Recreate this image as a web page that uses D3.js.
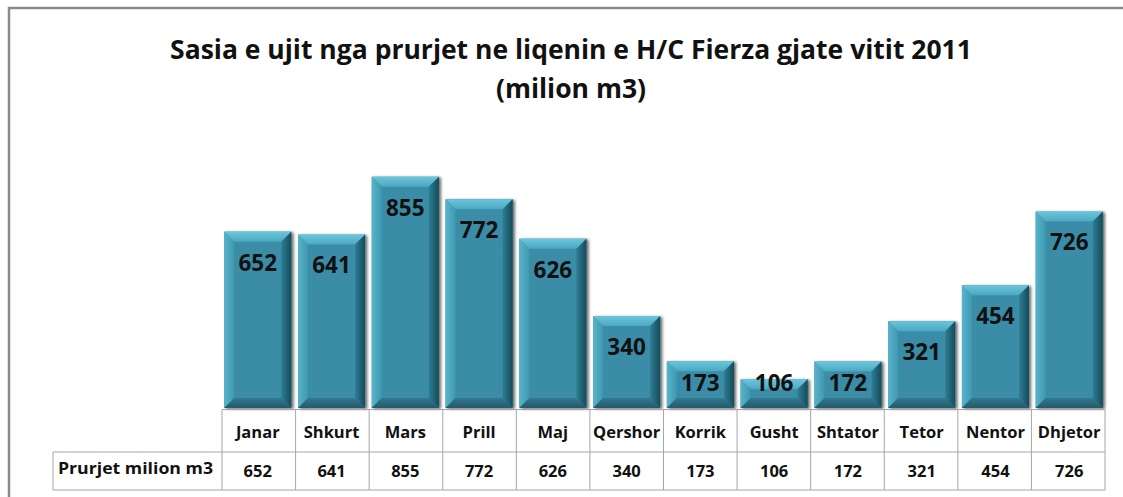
<!DOCTYPE html>
<html>
<head>
<meta charset="utf-8">
<script src="https://cdn.jsdelivr.net/npm/d3@7"></script>
<style>
  body { margin: 0; background: #fff; }
  svg { display: block; font-family: "Open Sans", "Noto Sans", sans-serif; }
  .title { font-weight: bold; font-size: 26.5px; fill: #111; }
  .cell { font-weight: bold; font-size: 16.5px; fill: #111; }
  .val { font-weight: bold; font-size: 22.5px; fill: #111; }
</style>
</head>
<body>
<svg width="1123" height="497"></svg>
<script>
var months = ["Janar", "Shkurt", "Mars", "Prill", "Maj", "Qershor", "Korrik", "Gusht", "Shtator", "Tetor", "Nentor", "Dhjetor"];
var values = [652, 641, 855, 772, 626, 340, 173, 106, 172, 321, 454, 726];
var seriesName = "Prurjet milion m3";
var titleLines = ["Sasia e ujit nga prurjet ne liqenin e H/C Fierza gjate vitit 2011", "(milion m3)"];

var svg = d3.select("svg");
var data = months.map(function(m, i) { return {month: m, val: values[i]}; });

var left = 222, right = 1105, base = 408;
var labelLeft = 53;
var row1 = 452, row2 = 490;

// outer chart border
svg.append("path")
  .attr("d", "M9,497 V8 H1123")
  .attr("fill", "none")
  .attr("stroke", "#8a8a8a")
  .attr("stroke-width", 2.5);

svg.selectAll(".title")
  .data(titleLines)
  .enter()
  .append("text")
  .attr("class", "title")
  .attr("x", 571)
  .attr("y", (d, i) => 59 + i * 39)
  .attr("text-anchor", "middle")
  .text(d => d);

var xScale = d3.scaleBand().domain(months).range([left, right]).paddingInner(0.09).paddingOuter(0.03);
var yScale = d3.scaleLinear().domain([0, 1000]).range([base, base - 270.5]);

var defs = svg.append("defs");
var f = defs.append("filter").attr("id", "shadow").attr("x", "-20%").attr("y", "-20%").attr("width", "140%").attr("height", "140%");
f.append("feGaussianBlur").attr("in", "SourceAlpha").attr("stdDeviation", 1.5);
f.append("feOffset").attr("dx", 2).attr("dy", 1).attr("result", "b");
f.append("feComponentTransfer").append("feFuncA").attr("type", "linear").attr("slope", 0.6);
var m = f.append("feMerge");
m.append("feMergeNode");
m.append("feMergeNode").attr("in", "SourceGraphic");

// gradients for bevel faces
function grad(id, x2, y2, c1, c2) {
  var g = defs.append("linearGradient").attr("id", id)
    .attr("x1", 0).attr("y1", 0).attr("x2", x2).attr("y2", y2);
  g.append("stop").attr("offset", 0).attr("stop-color", c1);
  g.append("stop").attr("offset", 1).attr("stop-color", c2);
}
grad("gTop", 0, 1, "#6cc6dc", "#4aa9c2");
grad("gLeft", 1, 0, "#58b4cb", "#3f98b1");
grad("gRight", 1, 0, "#2f7d93", "#154b5a");
grad("gBottom", 0, 1, "#32798e", "#24596a");

var bev = 10;
var bars = svg.append("g").selectAll(".bar")
  .data(data)
  .enter()
  .append("g")
  .attr("class", "bar")
  .attr("filter", "url(#shadow)");

function face(d, which) {
  var x0 = xScale(d.month), x1 = x0 + xScale.bandwidth();
  var y0 = yScale(d.val), y1 = base;
  var b = Math.min(bev, (y1 - y0) / 2);
  var pts;
  if (which == "top") pts = [[x0, y0], [x1, y0], [x1 - b, y0 + b], [x0 + b, y0 + b]];
  if (which == "left") pts = [[x0, y0], [x0 + b, y0 + b], [x0 + b, y1 - b], [x0, y1]];
  if (which == "right") pts = [[x1, y0], [x1 - b, y0 + b], [x1 - b, y1 - b], [x1, y1]];
  if (which == "bottom") pts = [[x0, y1], [x0 + b, y1 - b], [x1 - b, y1 - b], [x1, y1]];
  return "M" + pts.join("L") + "Z";
}

bars.append("rect")
  .attr("x", d => xScale(d.month))
  .attr("y", d => yScale(d.val))
  .attr("width", xScale.bandwidth())
  .attr("height", d => base - yScale(d.val))
  .attr("fill", "#3a8da7");

var faceFills = {top: "url(#gTop)", left: "url(#gLeft)", right: "url(#gRight)", bottom: "url(#gBottom)"};
Object.keys(faceFills).forEach(function(k) {
  bars.append("path")
    .attr("d", d => face(d, k))
    .attr("fill", faceFills[k]);
});

svg.selectAll(".val")
  .data(data)
  .enter()
  .append("text")
  .attr("class", "val")
  .attr("x", d => xScale(d.month) + xScale.bandwidth() / 2)
  .attr("y", d => Math.min(yScale(d.val) + 31, base - 25))
  .attr("dy", "0.35em")
  .attr("text-anchor", "middle")
  .text(d => d.val);

// data table
var colW = (right - left) / months.length;
var tbl = svg.append("g").attr("stroke", "#a6a6a6").attr("stroke-width", 1).attr("fill", "none");
tbl.append("line").attr("x1", left).attr("x2", right).attr("y1", base + 1.5).attr("y2", base + 1.5);
tbl.append("line").attr("x1", labelLeft).attr("x2", right).attr("y1", row1).attr("y2", row1);
tbl.append("line").attr("x1", labelLeft).attr("x2", right).attr("y1", row2).attr("y2", row2);
tbl.append("line").attr("x1", labelLeft).attr("x2", labelLeft).attr("y1", row1).attr("y2", row2);
tbl.selectAll(".vl")
  .data(d3.range(months.length + 1))
  .enter()
  .append("line")
  .attr("x1", i => left + i * colW)
  .attr("x2", i => left + i * colW)
  .attr("y1", base + 1.5)
  .attr("y2", row2);

svg.selectAll(".mlab")
  .data(months)
  .enter()
  .append("text")
  .attr("class", "cell")
  .attr("x", d => xScale(d) + xScale.bandwidth() / 2)
  .attr("y", (base + row1) / 2 + 2)
  .attr("dy", "0.35em")
  .attr("text-anchor", "middle")
  .text(d => d);

svg.selectAll(".tval")
  .data(data)
  .enter()
  .append("text")
  .attr("class", "cell")
  .attr("x", d => xScale(d.month) + xScale.bandwidth() / 2)
  .attr("y", (row1 + row2) / 2)
  .attr("dy", "0.35em")
  .attr("text-anchor", "middle")
  .text(d => d.val);

svg.append("text")
  .attr("class", "cell")
  .attr("x", labelLeft + 5)
  .attr("y", (row1 + row2) / 2 - 3)
  .attr("dy", "0.35em")
  .attr("textLength", 155)
  .attr("lengthAdjust", "spacingAndGlyphs")
  .text(seriesName);
</script>
</body>
</html>
